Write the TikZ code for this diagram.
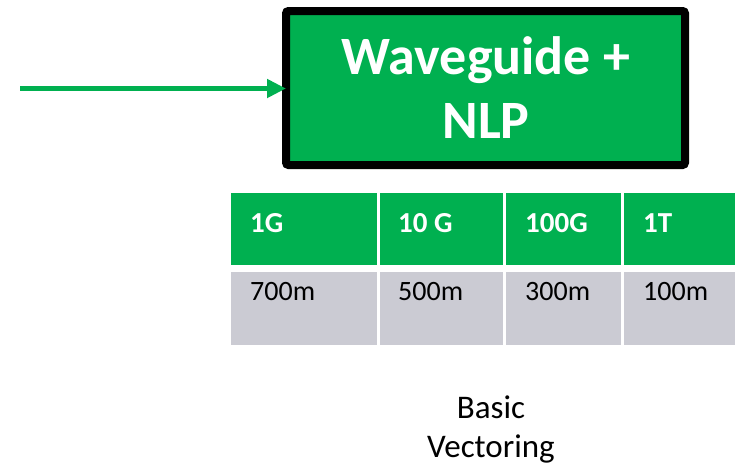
\documentclass[tikz,border=0pt]{standalone}
\usepackage{fontspec}
\setmainfont{Carlito}
\usetikzlibrary{arrows.meta}
\definecolor{ogreen}{RGB}{0,176,80}
\definecolor{ogray}{RGB}{203,203,211}
\tikzset{
  hdr/.style={fill=ogreen, draw=none},
  dat/.style={fill=ogray, draw=none},
  htext/.style={anchor=base west, inner sep=0pt, text=white, font=\fontsize{29}{35}\selectfont\bfseries},
  dtext/.style={anchor=base west, inner sep=0pt, text=black, font=\fontsize{28}{34}\selectfont},
}
\begin{document}
\begin{tikzpicture}[x=1pt,y=-1pt]
\useasboundingbox (0,0) rectangle (735,472);
% main box
\node (box) [draw=black, line width=8pt, fill=ogreen, rounded corners=2.5pt,
  minimum width=399pt, minimum height=154pt, inner sep=0pt] at (485.5,88) {};
\node (boxtxt) [anchor=base, align=center, inner sep=0pt, text=white,
  font=\fontsize{54}{64}\selectfont\bfseries] at (486,138) {Waveguide +\\NLP};
% arrow
\coordinate (start) at (20,88.5);
\draw[ogreen, line width=5.5pt, shorten >=-4pt, -{Triangle[length=19pt,width=18pt]}] (start) -- (box.west |- start);
% table
\path[hdr] (231,193) rectangle (377,265);
\path[hdr] (380,193) rectangle (503,265);
\path[hdr] (506,193) rectangle (621,265);
\path[hdr] (624,193) rectangle (735,265);
\path[dat] (231,272) rectangle (377,345);
\path[dat] (380,272) rectangle (503,345);
\path[dat] (506,272) rectangle (621,345);
\path[dat] (624,272) rectangle (735,345);
\node (t1) [htext] at (250,232) {1G};
\node (t2) [htext] at (398,232) {10 G};
\node (t3) [htext] at (525,232) {100G};
\node (t4) [htext] at (643,232) {1T};
\node (d1) [dtext] at (250,300) {700m};
\node (d2) [dtext] at (398,300) {500m};
\node (d3) [dtext] at (525,300) {300m};
\node (d4) [dtext] at (643,300) {100m};
\node (cap) [align=center, inner sep=0pt, font=\fontsize{33}{39}\selectfont, anchor=base] at (491,457) {Basic\\Vectoring};
\end{tikzpicture}
\end{document}
